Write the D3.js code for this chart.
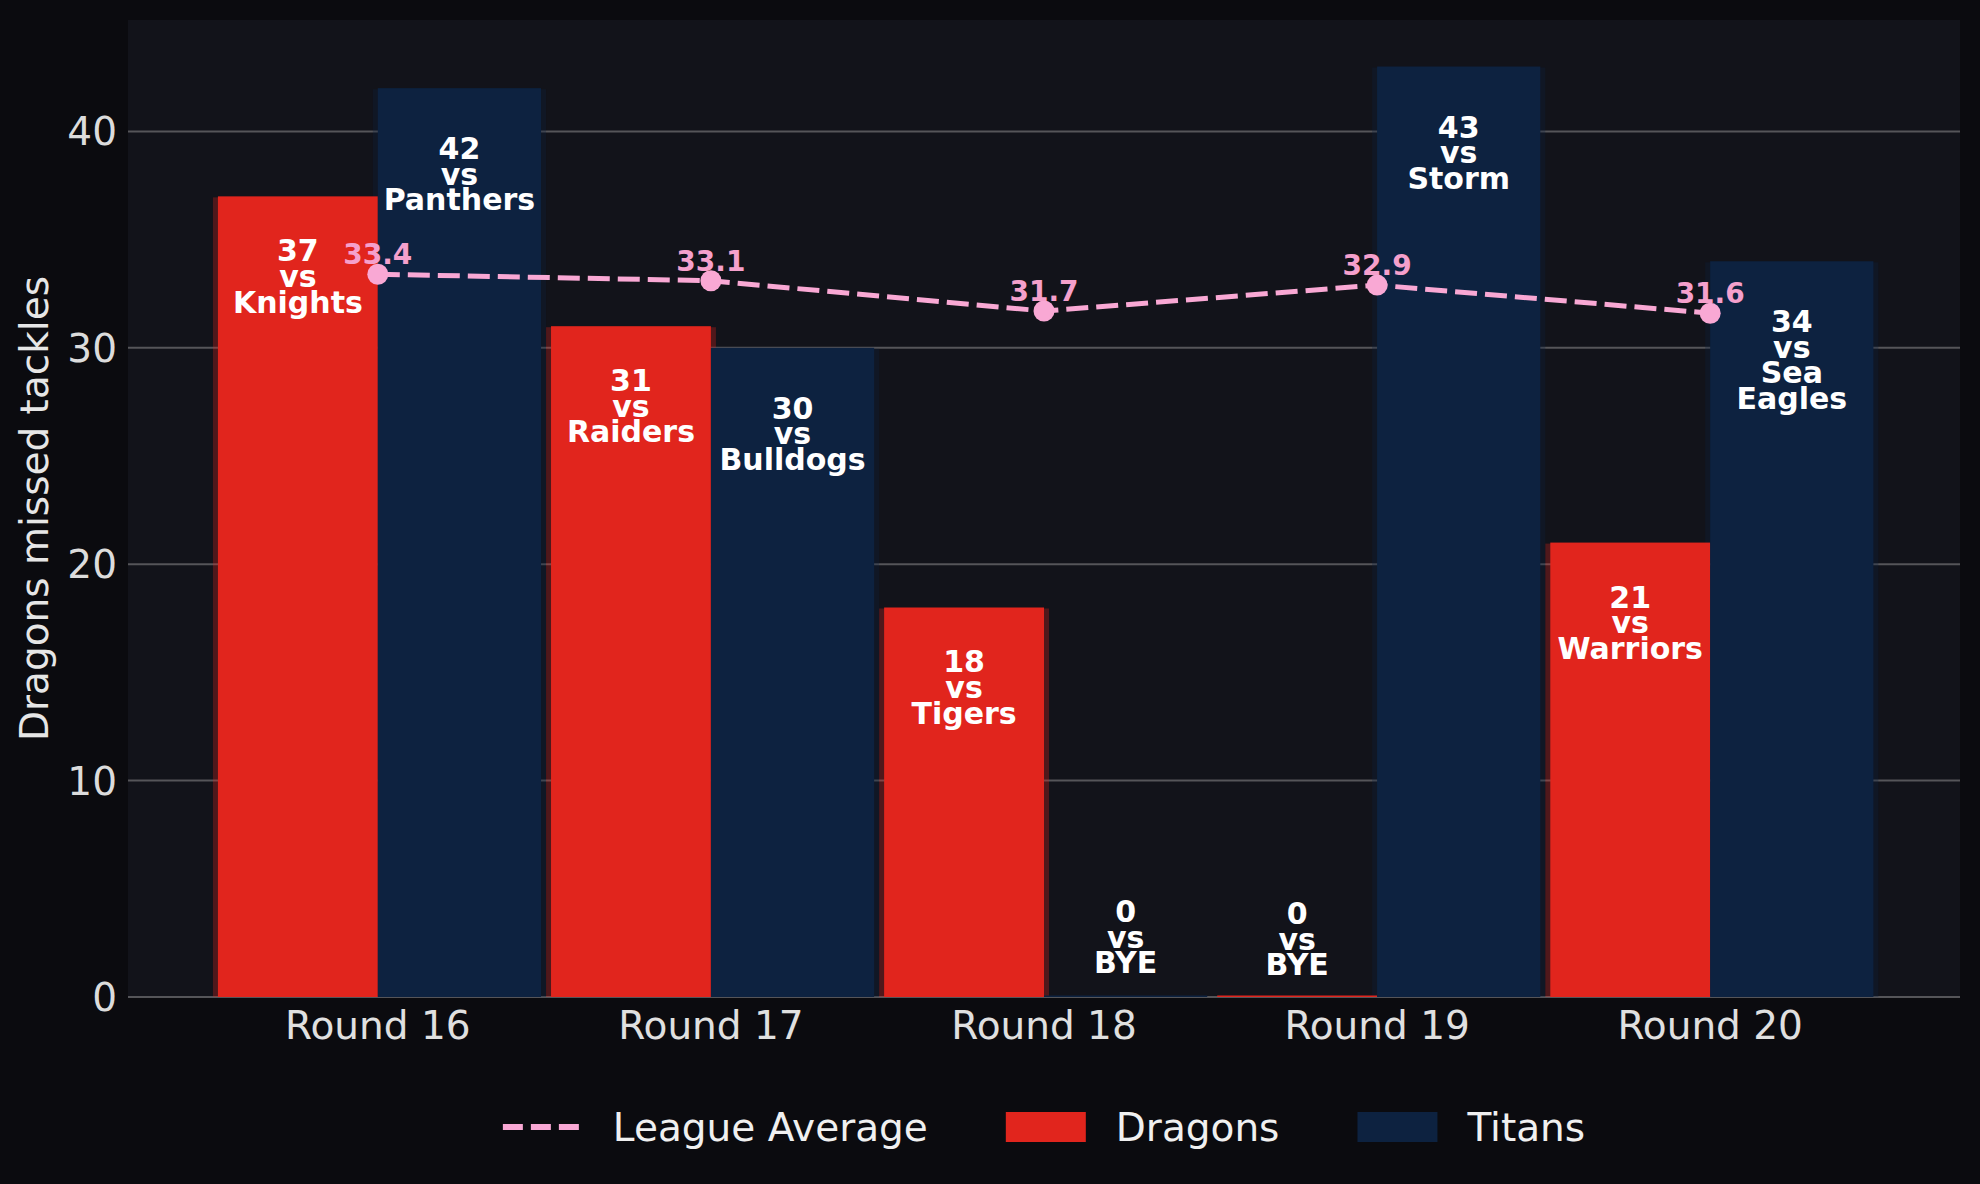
<!DOCTYPE html>
<html>
<head>
<meta charset="utf-8">
<script src="https://cdn.jsdelivr.net/npm/d3@7"></script>
<style>
  html, body { margin: 0; padding: 0; background: #0b0b0f; }
  svg { display: block; }
  text { font-family: "DejaVu Sans", sans-serif; }
</style>
</head>
<body>
<svg id="chart" width="1980" height="1184"></svg>
<script>
// ---- data ----
const rounds = ["Round 16", "Round 17", "Round 18", "Round 19", "Round 20"];
const dragons = [37, 31, 18, 0, 21];
const titans = [42, 30, 0, 43, 34];
const dragonsOpp = ["Knights", "Raiders", "Tigers", "BYE", "Warriors"];
const titansOpp = ["Panthers", "Bulldogs", "BYE", "Storm", "Sea Eagles"];
const leagueAvg = [33.4, 33.1, 31.7, 32.9, 31.6];
const yTicks = [0, 10, 20, 30, 40];
const yLabel = "Dragons missed tackles";
const legendItems = ["League Average", "Dragons", "Titans"];

// ---- styles ----
const W = 1980, H = 1184;
const plot = { left: 128, right: 1960, top: 20, bottom: 997 };
const RED = "#e1251d", NAVY = "#0d2240", PINK = "#f9a8d4";
const PLOT_BG = "#12131a", BG = "#0b0b0f";

const svg = d3.select("#chart");
svg.append("rect").attr("width", W).attr("height", H).attr("fill", BG);
svg.append("rect")
  .attr("x", plot.left).attr("y", plot.top)
  .attr("width", plot.right - plot.left).attr("height", plot.bottom - plot.top)
  .attr("fill", PLOT_BG);

const x = d3.scaleLinear().domain([-0.75, 4.75]).range([plot.left, plot.right]);
const y = d3.scaleLinear().domain([0, 45.15]).range([plot.bottom, plot.top]);

// gridlines
svg.append("g").selectAll("line").data(yTicks).join("line")
  .attr("x1", plot.left).attr("x2", plot.right)
  .attr("y1", d => y(d)).attr("y2", d => y(d))
  .attr("stroke", "#555559").attr("stroke-width", 2);

// y tick labels
svg.append("g").selectAll("text").data(yTicks).join("text")
  .attr("x", plot.left - 11).attr("y", d => y(d) + 14)
  .attr("text-anchor", "end")
  .attr("font-size", 39).attr("fill", "#dcdcdc")
  .text(d => d);

// y axis label
svg.append("text")
  .attr("transform", `translate(47.5, ${(plot.top + plot.bottom) / 2}) rotate(-90)`)
  .attr("text-anchor", "middle")
  .attr("font-size", 39).attr("fill", "#e6e6e6")
  .text(yLabel);

// x tick labels
svg.append("g").selectAll("text").data(rounds).join("text")
  .attr("x", (d, i) => x(i)).attr("y", 1039)
  .attr("text-anchor", "middle")
  .attr("font-size", 39).attr("fill", "#e0e0e0")
  .text(d => d);

const wD = 0.48, wT = 0.49;
const series = [
  { name: "Dragons", vals: dragons, opp: dragonsOpp, color: RED, x0: i => i - wD, x1: i => i, off: 65, zeroOff: -73 },
  { name: "Titans", vals: titans, opp: titansOpp, color: NAVY, x0: i => i, x1: i => i + wT, off: 71, zeroOff: -75 }
];

// shadows
series.forEach(s => {
  svg.append("g").selectAll("rect").data(s.vals).join("rect")
    .attr("x", (d, i) => x(s.x0(i)) - 5)
    .attr("width", (d, i) => x(s.x1(i)) - x(s.x0(i)) + 10)
    .attr("y", d => y(d) + 1)
    .attr("height", d => Math.max(0, y(0) - y(d) - 1))
    .attr("fill", s.color).attr("opacity", 0.3);
});

// bars
series.forEach(s => {
  svg.append("g").selectAll("rect").data(s.vals).join("rect")
    .attr("x", (d, i) => x(s.x0(i)))
    .attr("width", (d, i) => x(s.x1(i)) - x(s.x0(i)))
    .attr("y", d => y(d) - (d === 0 ? 1.5 : 0))
    .attr("height", d => Math.max(1.5, y(0) - y(d)))
    .attr("fill", s.color);
});

// bar labels
series.forEach(s => {
  const g = svg.append("g");
  s.vals.forEach((v, i) => {
    const lines = [String(v), "vs", ...s.opp[i].split(" ")];
    const cx = (x(s.x0(i)) + x(s.x1(i))) / 2;
    const y0 = v === 0 ? y(0) + s.zeroOff - (lines.length - 3) * 26 : y(v) + s.off;
    const t = g.append("text")
      .attr("text-anchor", "middle")
      .attr("font-size", 30).attr("font-weight", "bold").attr("fill", "#ffffff");
    lines.forEach((ln, k) => {
      t.append("tspan").attr("x", cx).attr("y", y0 + k * 25.6).text(ln);
    });
  });
});

// league average line
const line = d3.line().x((d, i) => x(i)).y(d => y(d));
svg.append("path").datum(leagueAvg)
  .attr("d", line)
  .attr("fill", "none").attr("stroke", PINK).attr("stroke-width", 5)
  .attr("stroke-dasharray", "22,8");
svg.append("g").selectAll("circle").data(leagueAvg).join("circle")
  .attr("cx", (d, i) => x(i)).attr("cy", d => y(d)).attr("r", 10.5)
  .attr("fill", PINK);
svg.append("g").selectAll("text").data(leagueAvg).join("text")
  .attr("x", (d, i) => x(i)).attr("y", d => y(d) - 10)
  .attr("text-anchor", "middle")
  .attr("font-size", 28).attr("font-weight", "bold").attr("fill", "#f5a0cc")
  .text(d => d.toFixed(1));

// legend
const lg = svg.append("g");
const handleW = 80, gapText = 30, gapItem = 78, legY = 1127, legBase = 1141;
const items = legendItems.map((name, k) => ({ name, k }));
const widths = [];
items.forEach(it => {
  const t = lg.append("text").attr("font-size", 39).attr("fill", "#f0f0f0").text(it.name);
  it.node = t;
  widths.push(t.node().getComputedTextLength());
});
const total = items.reduce((a, it, k) => a + handleW + gapText + widths[k], 0) + gapItem * (items.length - 1);
let cx = (plot.left + plot.right) / 2 - total / 2;
items.forEach((it, k) => {
  if (k === 0) {
    lg.append("line").attr("x1", cx).attr("x2", cx + handleW)
      .attr("y1", legY).attr("y2", legY)
      .attr("stroke", PINK).attr("stroke-width", 6).attr("stroke-dasharray", "20,8");
  } else {
    lg.append("rect").attr("x", cx).attr("y", legY - 15).attr("width", handleW).attr("height", 30)
      .attr("fill", k === 1 ? RED : NAVY);
  }
  it.node.attr("x", cx + handleW + gapText).attr("y", legBase);
  cx += handleW + gapText + widths[k] + gapItem;
});
</script>
</body>
</html>
